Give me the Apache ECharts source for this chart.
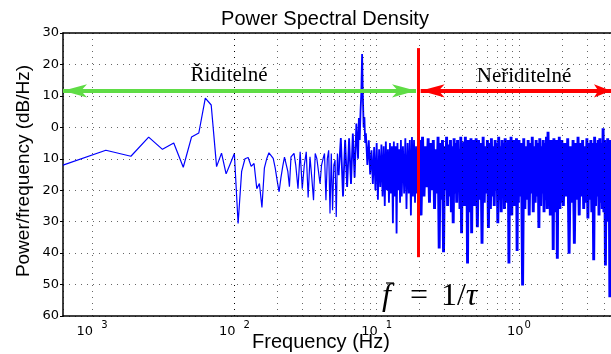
<!DOCTYPE html>
<html><head><meta charset="utf-8">
<script src="https://cdn.jsdelivr.net/npm/echarts@6/dist/echarts.min.js"></script>
<style>html,body{margin:0;padding:0;background:#fff}#c{width:611px;height:354px}</style>
</head><body><div id="c"></div>
<script>
// ---- data: frequency (Hz) and PSD (dB/Hz) ----
const freqLow = [0.000625,0.00125,0.001875,0.0025,0.003125,0.00375,0.004375,0.005,0.005625,0.00625,0.006875,0.0075,0.008125,0.00875,0.009375,0.01,0.010625,0.01125,0.011875,0.0125,0.013125,0.01375,0.014375,0.015,0.015625,0.01625,0.016875,0.0175,0.018125,0.01875,0.019375,0.02,0.020625,0.02125,0.021875,0.0225,0.023125,0.02375,0.024375,0.025,0.025625,0.02625];
const psdLow = [-12.0,-7.3,-9.2,-3.1,-7.0,-5.0,-12.7,-3.1,-1.8,9.3,7.1,-12.5,-8.2,-14.8,-11.5,-8.3,-30.6,-14,-10,-9.6,-12.4,-11.5,-19.5,-17.9,-25.5,-13,-10,-8.1,-9,-9.9,-13,-17,-20.5,-16,-12.4,-9.5,-8.9,-14,-18.9,-9.4,-9,-8.3];

const freqMid = [0.027,0.028,0.029,0.030,0.031,0.032,0.033,0.034,0.035,0.036,0.037,0.038,0.039,0.040,0.041,0.042,0.043,0.044,0.045,0.046,0.047,0.048,0.049,0.050,0.051,0.052,0.053,0.054];
const psdMid = [-12,-19.5,-7.8,-19.5,-12,-7.8,-22.3,-9.4,-16,-23.2,-8.3,-10,-9.8,-17.9,-12,-10,-8.3,-23.2,-10,-7.3,-27.4,-8.3,-26.4,-12,-10.4,-28.5,-8.3,-15.2];

const freqPeak = [0.056,0.058,0.06,0.062,0.064,0.066,0.068,0.07,0.072,0.074,0.075,0.076,0.077,0.078,0.079,0.08,0.081,0.082,0.083,0.084,0.086,0.088,0.09,0.092,0.094,0.096,0.098,0.1,0.102,0.104,0.106,0.108,0.11,0.112,0.114,0.116,0.118,0.12,0.122,0.124,0.126,0.128,0.13,0.132,0.134,0.136,0.138,0.14,0.142,0.144,0.146,0.148,0.15,0.153,0.156,0.159,0.162,0.165,0.168,0.171,0.174,0.177,0.18,0.183,0.186,0.189,0.192,0.195,0.198];
const psdPeak = [-3.4,-22,-4,-19,-3.5,-18,-2,-16,1.2,-10,3,-4,5,10.8,23.3,9.7,0,3.3,-5,-1.9,-12,-4.1,-15,-7.3,-18,-6.3,-20,-5,-23,-7,-19,-5.5,-22,-6,-25,-4.5,-20,-7,-24,-5,-21,-6,-30.5,-4.5,-22,-6,-33.8,-5,-20,-7,-24,-4,-22,-6,-21,-3.5,-26,-5,-21,-4,-28,-3.1,-22,-4,-24,-6,-21,-5,-26];

const freqHi1 = [0.2,0.205,0.21,0.215,0.22,0.225,0.23,0.235,0.24,0.245,0.25,0.255,0.26,0.265,0.27,0.275,0.28,0.285,0.29,0.295,0.3,0.305,0.31,0.315,0.32,0.325,0.33,0.335,0.34,0.345,0.35,0.355,0.36,0.365,0.37,0.375,0.38,0.385,0.39,0.395,0.4,0.405,0.41,0.415,0.42,0.425,0.43,0.435,0.44,0.445,0.45,0.455,0.46,0.465,0.47,0.475,0.48,0.485,0.49,0.495,0.5];
const psdHi1 = [-4,-28,-3,-22,-6,-19,-3.5,-24,-5,-20,-4,-26,-7,-21,-3,-38.5,-5,-23,-4,-39.7,-6,-20,-3,-25,-5.5,-22,-4,-27,-6,-30.5,-3.5,-21,-5,-24,-4,-19,-7,-26,-3,-33.7,-5,-22,-4.5,-25,-3,-21,-6,-43.3,-4,-23,-5,-27,-3.5,-33.7,-5,-22,-4,-25,-6,-20,-3.5];

const freqHi2 = [0.51,0.52,0.53,0.54,0.55,0.56,0.57,0.58,0.59,0.6,0.61,0.62,0.63,0.64,0.65,0.66,0.67,0.68,0.69,0.7,0.71,0.72,0.73,0.74,0.75,0.76,0.77,0.78,0.79,0.8,0.81,0.82,0.83,0.84,0.85,0.86,0.87,0.88,0.89,0.9,0.91,0.92,0.93,0.94,0.95,0.96,0.97,0.98,0.99,1.0];
const psdHi2 = [-31.8,-4,-23,-5,-37,-3,-24,-6,-21,-4,-32,-5,-26,-3.5,-22,-6,-25,-4,-20,-5,-30.5,-3,-23,-6,-27,-4,-21,-5,-26,-3.5,-24,-6,-22,-4,-43.3,-5,-23,-3,-28,-5,-21,-4,-25,-6,-23,-3.5,-39.3,-5,-24,-4];

const freqHi3 = [1.02,1.04,1.06,1.08,1.1,1.12,1.14,1.16,1.18,1.2,1.22,1.24,1.26,1.28,1.3,1.32,1.34,1.36,1.38,1.4,1.42,1.44,1.46,1.48,1.5,1.52,1.54,1.56,1.58,1.6,1.62,1.64,1.66,1.68,1.7,1.72,1.74,1.76,1.78,1.8,1.82,1.84,1.86,1.88,1.9,1.92,1.94,1.96,1.98,2.0];
const psdHi3 = [-22,-5,-50.3,-3.5,-26,-6,-23,-4,-28,-5,-21,-3,-27,-6,-24,-4,-22,-5,-32,-3.5,-25,-6,-21,-4,-27,-5,-23,-3,-26,-1.4,-22,-5,-28,-4,-24,-6,-39,-3.5,-23,-5,-27,-4,-41.8,-6,-22,-3,-26,-5,-24,-4];

const freqHi4 = [2.05,2.1,2.15,2.2,2.25,2.3,2.35,2.4,2.45,2.5,2.55,2.6,2.65,2.7,2.75,2.8,2.85,2.9,2.95,3.0,3.05,3.1,3.15,3.2,3.25,3.3,3.35,3.4,3.45,3.5,3.55,3.6,3.65,3.7,3.75,3.8,3.85,3.9,3.95,4.0,4.05,4.1,4.15,4.2,4.25,4.3,4.35,4.4,4.45];
const psdHi4 = [-25,-5,-22,-3.5,-40.2,-6,-24,-4,-37,-5,-23,-3,-28,-5,-22,-4,-26,-6,-24,-3.5,-29,-5,-23,-4,-27,-5,-42.3,-3,-25,-5,-22,-4,-28,-3.5,-24,-5,-26,-0.3,-27,-4,-43.9,-5,-25,-3.5,-30,-5,-54,-4,-24];

// minor (2..9 x decade) frequency grid lines
const minorGridHz = [0.0007,0.0008,0.0009,0.002,0.003,0.004,0.005,0.006,0.007,0.008,0.009,0.02,0.03,0.04,0.05,0.06,0.07,0.08,0.09,0.2,0.3,0.4,0.5,0.6,0.7,0.8,0.9,2,3,4];

const X_MIN = 0.000625, X_MAX = 4.432;
const Y_MIN = -60, Y_MAX = 30;

// annotations (data coordinates)
const cutoffHz = 0.195;
const cutoffDbRange = [25.2, -41.3];
const arrowDb = 11.6;
const greenArrowHz = [0.000625, 0.189];
const redArrowHz = [0.2038, X_MAX];

function pairs(fs, vs) { return fs.map((f, i) => [f, vs[i]]); }
const partLow = pairs([].concat(freqLow, freqMid), [].concat(psdLow, psdMid));
const partPeak = [partLow[partLow.length - 1]].concat(pairs(freqPeak, psdPeak));
const partHigh = [partPeak[partPeak.length - 1]].concat(
  pairs([].concat(freqHi1, freqHi2, freqHi3, freqHi4), [].concat(psdHi1, psdHi2, psdHi3, psdHi4)));

const gridStyle = { color: 'rgba(0,0,0,0.6)', width: 1, type: [1, 5] };
const tickFont = 'DejaVu Sans';
const sans = '"Liberation Sans", Arial, sans-serif';
const serif = '"Liberation Serif", "Times New Roman", serif';
const BLUE = '#0000ff';

const chart = echarts.init(document.getElementById('c'), null, { renderer: 'canvas' });
function arrow(hz, color, headEnd) {
  return [
    { coord: [hz[0], arrowDb], symbol: 'arrow', symbolSize: [10, 24], lineStyle: { color: color, width: 4, type: 'solid' } },
    { coord: [hz[1], arrowDb], symbol: 'arrow', symbolSize: headEnd, lineStyle: { color: color, width: 4, type: 'solid' } }
  ];
}
function lineSeries(data, width) {
  return { type: 'line', data: data, z: 3, symbol: 'none', showSymbol: false, sampling: null,
           lineStyle: { color: BLUE, width: width }, clip: true, silent: true };
}
chart.setOption({
  animation: false,
  grid: { left: 63, right: 0, top: 33, bottom: 38, containLabel: false, outerBoundsMode: 'none' },
  xAxis: [{
    type: 'log', logBase: 10, min: X_MIN, max: X_MAX, splitNumber: 4,
    axisLine: { show: true, onZero: false, lineStyle: { color: '#000', width: 1.5 } },
    axisTick: { show: false },
    axisLabel: {
      show: true, margin: 4, showMinLabel: false, showMaxLabel: false, hideOverlap: false,
      formatter: function (v) {
        const e = Math.log10(v), r = Math.round(e);
        if (Math.abs(e - r) > 1e-6) return '';
        return '{b|10}{' + (r < 0 ? 'sn' : 'sz') + '|' + Math.abs(r) + '}';
      },
      rich: {
        b: { fontFamily: tickFont, fontSize: 13, color: '#000', lineHeight: 18, verticalAlign: 'bottom' },
        sn: { fontFamily: tickFont, fontSize: 10, color: '#000', lineHeight: 10, verticalAlign: 'top', padding: [0, 0, 0, 8] },
        sz: { fontFamily: tickFont, fontSize: 10, color: '#000', lineHeight: 10, verticalAlign: 'top', padding: [0, 0, 0, 1] }
      }
    },
    splitLine: { show: true, lineStyle: gridStyle }
  }, {
    type: 'log', logBase: 10, min: X_MIN, max: X_MAX, position: 'top',
    axisLine: { show: true, onZero: false, lineStyle: { color: '#000', width: 1.5 } },
    axisTick: { show: false }, axisLabel: { show: false }, splitLine: { show: false }
  }],
  yAxis: {
    type: 'value', min: Y_MIN, max: Y_MAX, interval: 10,
    axisLine: { show: true, onZero: false, lineStyle: { color: '#000', width: 1.5 } },
    axisTick: { show: true, inside: false, length: 3, lineStyle: { color: '#000', width: 1 } },
    axisLabel: { formatter: v => String(Math.abs(v)), fontFamily: tickFont, fontSize: 13, color: '#000', margin: 4 },
    splitLine: { show: true, lineStyle: gridStyle }
  },
  series: [
    {
      type: 'line', data: [], z: 1, silent: true,
      markLine: {
        silent: true, symbol: 'none', label: { show: false }, animation: false,
        lineStyle: gridStyle,
        data: minorGridHz.map(f => ({ xAxis: f }))
      }
    },
    lineSeries(partLow, 1.2),
    lineSeries(partPeak, 1.8),
    lineSeries(partHigh, 2.9),
    {
      type: 'line', data: [], z: 5, silent: true,
      markLine: {
        silent: true, animation: false, label: { show: false }, symbol: 'none',
        data: [
          [{ coord: [cutoffHz, cutoffDbRange[0]], lineStyle: { color: '#ff0000', width: 3, type: 'solid' } },
           { coord: [cutoffHz, cutoffDbRange[1]], lineStyle: { color: '#ff0000', width: 3, type: 'solid' } }],
          arrow(greenArrowHz, '#5fdc45', [10, 24]),
          arrow(redArrowHz, '#ff0000', [10, 17])
        ]
      }
    }
  ],
  graphic: [
    { type: 'text', x: 325, y: 19, style: { text: 'Power Spectral Density', font: '20px ' + sans, fill: '#000', align: 'center', verticalAlign: 'middle' } },
    { type: 'text', x: 321, y: 342, style: { text: 'Frequency (Hz)', font: '20px ' + sans, fill: '#000', align: 'center', verticalAlign: 'middle' } },
    { type: 'text', x: 24, y: 171, rotation: Math.PI / 2, style: { text: 'Power/frequency (dB/Hz)', font: '19px ' + sans, fill: '#000', align: 'center', verticalAlign: 'middle' } },
    { type: 'text', x: 229, y: 75, z: 10, style: { text: 'Řiditelné', font: '21px ' + serif, fill: '#000', align: 'center', verticalAlign: 'middle' } },
    { type: 'text', x: 524, y: 76, z: 10, style: { text: 'Neřiditelné', font: '21px ' + serif, fill: '#000', align: 'center', verticalAlign: 'middle' } },
    { type: 'text', x: 382, y: 297, z: 10, style: {
        text: '{i|f}{o|=}{n|1/}{i|τ}', align: 'left', verticalAlign: 'middle', fill: '#000', font: '32px ' + serif,
        rich: {
          i: { fontFamily: serif, fontStyle: 'italic', fontSize: 32, fill: '#000' },
          o: { fontFamily: serif, fontSize: 32, fill: '#000', padding: [0, 13, 0, 19] },
          n: { fontFamily: serif, fontSize: 32, fill: '#000' }
        } } },
    { type: 'line', z: 10, shape: { x1: 386, y1: 283, x2: 394, y2: 283 }, style: { stroke: '#000', lineWidth: 1.2 } }
  ]
});
</script>
</body></html>
